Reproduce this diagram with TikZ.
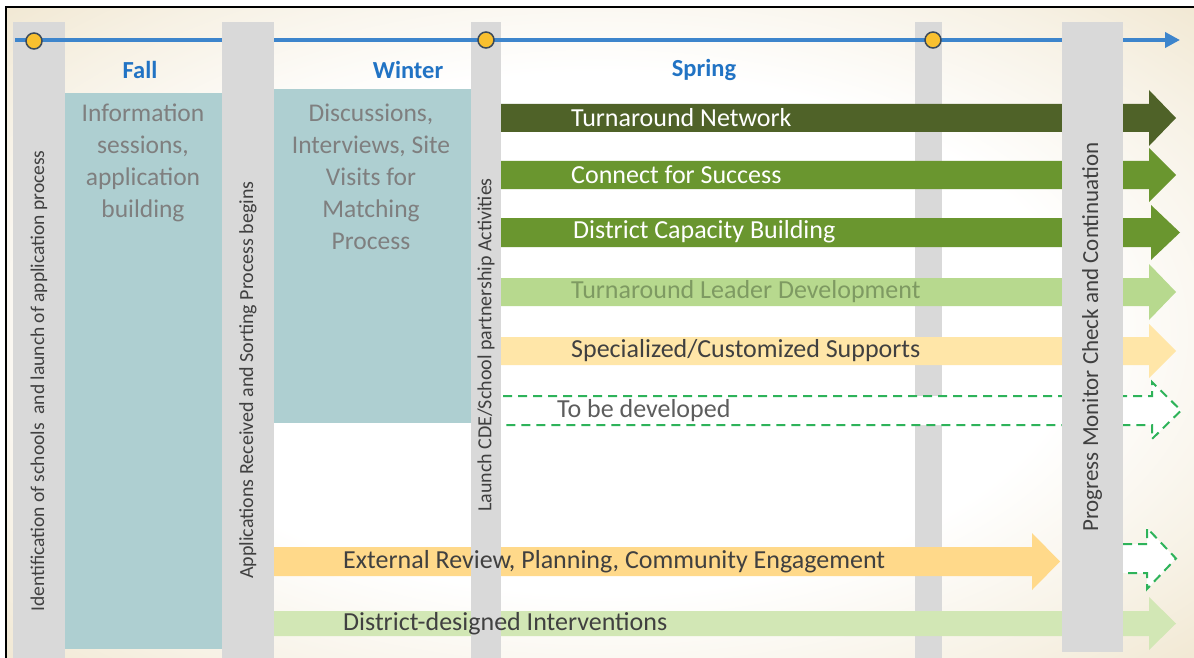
\documentclass[tikz,border=0pt]{standalone}
\usepackage{fontspec}
\setmainfont{Carlito}
\usetikzlibrary{arrows.meta}

\definecolor{cream}{HTML}{F0E6CF}
\definecolor{barGray}{HTML}{D9D9D9}
\definecolor{tealFill}{HTML}{AECFD1}
\definecolor{tealText}{HTML}{7F7F7F}
\definecolor{barText}{HTML}{404040}
\definecolor{seasonBlue}{HTML}{2173C4}
\definecolor{lineBlue}{HTML}{3D85CC}
\definecolor{gold}{HTML}{F9C02F}
\definecolor{ringDark}{HTML}{3B4A5A}
\definecolor{darkGreen}{HTML}{4F6228}
\definecolor{midGreen}{HTML}{6A962F}
\definecolor{leafGreen}{HTML}{B7D98E}
\definecolor{paleGreen}{HTML}{D2E7B5}
\definecolor{peach}{HTML}{FFE6A8}
\definecolor{apricot}{HTML}{FFD98A}
\definecolor{dashGreen}{HTML}{2EB35A}
\definecolor{mutedGreen}{HTML}{7E9A62}

\pgfdeclareradialshading{paper}{\pgfpoint{0bp}{0bp}}{color(0bp)=(white); color(20bp)=(white); color(30bp)=(cream!55); color(37bp)=(cream); color(50bp)=(cream)}

% block arrow: x start, x head base, x tip, y top, y bottom, overhang
\newcommand{\band}[7][]{%
  \path[#1] (#2,#5) -- (#3,#5) -- (#3,{#5-#7}) -- (#4,{(#5+#6)/2})
    -- (#3,{#6+#7}) -- (#3,#6) -- (#2,#6);}

\tikzset{
  bar/.style={fill=barGray},
  season/.style={text=seasonBlue, font=\fontsize{24.5}{28}\selectfont\bfseries},
  tealtext/.style={text=tealText, align=center, font=\fontsize{25.5}{32}\selectfont},
  bartext/.style={rotate=90, text=barText},
  bandtext/.style={anchor=west, inner xsep=0pt, font=\fontsize{26}{30}\selectfont},
  tbd/.style={draw=dashGreen, dash pattern=on 9pt off 6pt, line width=2pt, fill=white},
  milestone/.style={circle, fill=gold, draw=ringDark, line width=1.5pt, minimum size=16pt, inner sep=0pt},
  timeline/.style={draw=lineBlue, line width=4.5pt, -{Triangle[length=15pt,width=15pt]}}
}

\begin{document}
\begin{tikzpicture}[x=1pt,y=-1pt]
  \useasboundingbox (0,0) rectangle (1194,658);

  % paper and frame
  \fill[white] (0,0) rectangle (1194,658);
  \shade[shading=paper] (7,8) rectangle (1194,658);
  \draw[line width=2pt] (6,658) -- (6,7) -- (1194,7);

  % season blocks
  \fill[tealFill] (65,93) rectangle (222,649);
  \fill[tealFill] (274,89) rectangle (471,423);

  % thin spring bar sits under the bands
  \fill[bar] (915,22) rectangle (942,658);

  % bands
  \band[fill=darkGreen]{501}{1149}{1176}{104}{132}{14}
  \band[fill=midGreen]{501}{1149}{1176}{161}{189}{13}
  \band[fill=midGreen]{501}{1151}{1180}{218}{247}{13}
  \band[fill=leafGreen]{501}{1149}{1176}{278}{306}{14}
  \band[fill=peach]{501}{1149}{1176}{337}{365}{13}
  \band[tbd]{503}{1152}{1181}{396}{425}{14}
  \band[fill=apricot]{274}{1032}{1060}{547}{576}{14}
  \band[fill=paleGreen]{274}{1149}{1176}{611}{636}{14}
  \band[tbd]{1123}{1147}{1176}{544}{573}{16}

  % bars and timeline
  \fill[bar] (13,22) rectangle (65,658);
  \fill[bar] (471,22) rectangle (501,658);
  \coordinate (tstart) at (15,40);
  \coordinate (tend) at (1180,40);
  \draw[timeline] (tstart) -- (tend);
  \fill[bar] (222,22) rectangle (274,658);
  \fill[bar] (1062,22) rectangle (1123,652);

  \node[milestone] (m1) at (34,41) {};
  \node[milestone] (m2) at (486,40) {};
  \node[milestone] (m3) at (933,40) {};

  % seasons
  \node[season] (fall) at (140,70) {Fall};
  \node[season] (winter) at (408,70) {Winter};
  \node[season] (spring) at (704,70) {Spring};

  \node[tealtext] (info) at (143,163) {Information\\sessions,\\application\\building};
  \node[tealtext] (match) at (371,177) {Discussions,\\Interviews, Site\\Visits for\\Matching\\Process};

  % bar labels
  \node[bartext, font=\fontsize{19.5}{22}\selectfont] (ident) at (39,381) {Identification of schools\ \ and launch of application process};
  \node[bartext, font=\fontsize{20}{22}\selectfont] (recv) at (248,380) {Applications Received and Sorting Process begins};
  \node[bartext, font=\fontsize{20}{22}\selectfont] (launch) at (486,345) {Launch CDE/School partnership Activities};
  \node[bartext, font=\fontsize{23}{26}\selectfont] (monitor) at (1092,337) {Progress Monitor Check and Continuation};

  % band labels
  \node[bandtext, text=white] (network) at (571,118) {Turnaround Network};
  \node[bandtext, text=white] (connect) at (571,175) {Connect for Success};
  \node[bandtext, text=white] (capacity) at (573,232) {District Capacity Building};
  \node[bandtext, text=mutedGreen] (leader) at (571,292) {Turnaround Leader Development};
  \node[bandtext, text=barText] (custom) at (571,351) {Specialized/Customized Supports};
  \node[bandtext, text=barText!85] (todo) at (557,411) {To be developed};
  \node[bandtext, text=barText] (review) at (343,562) {External Review, Planning, Community Engagement};
  \node[bandtext, text=barText] (district) at (343,624) {District-designed Interventions};

\end{tikzpicture}
\end{document}
